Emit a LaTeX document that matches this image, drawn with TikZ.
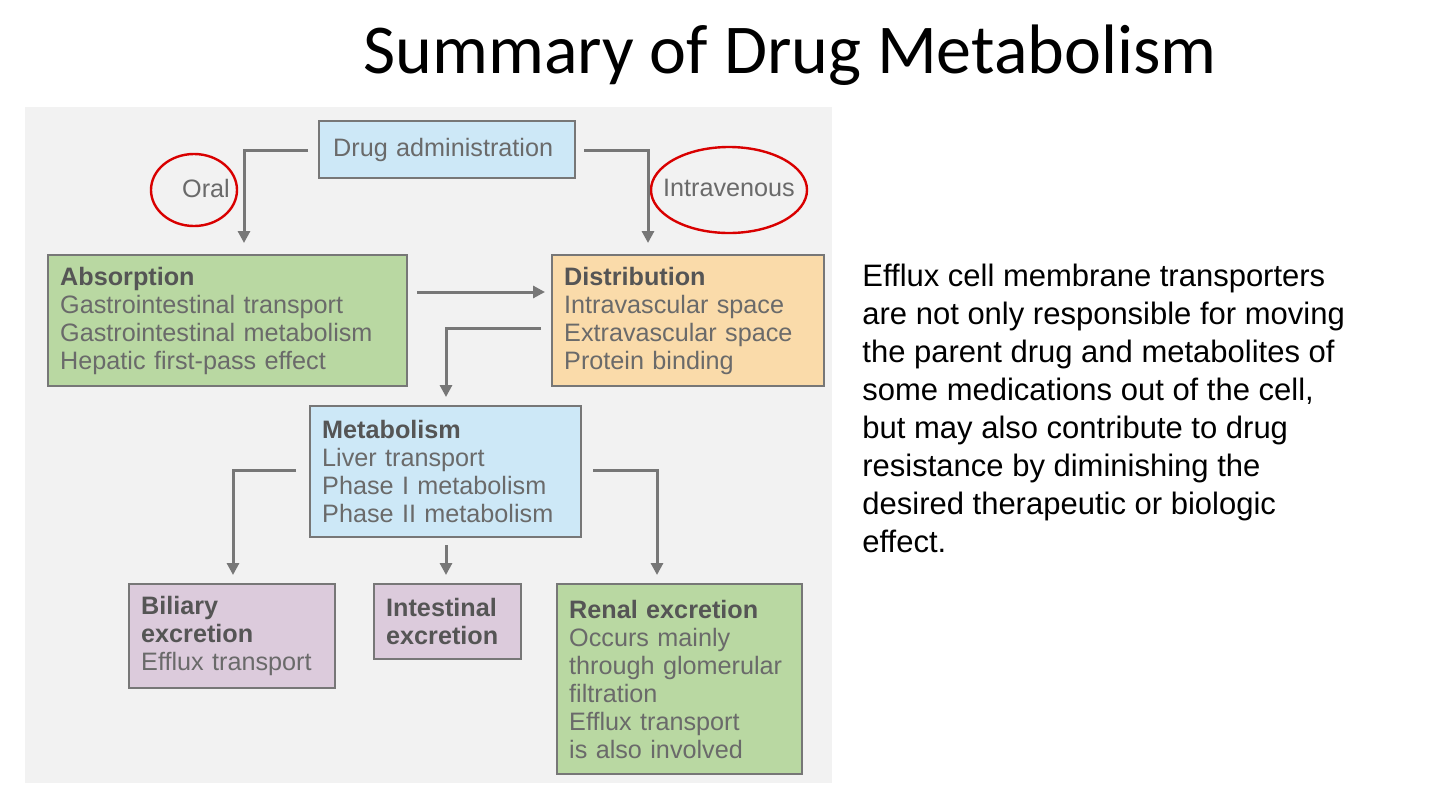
\documentclass[tikz,border=0pt]{standalone}
\usepackage{fontspec}
\setmainfont{Liberation Sans}
\newfontfamily\titlefont{Carlito}
\usetikzlibrary{arrows.meta}
\definecolor{bx}{HTML}{777777}
\definecolor{tx}{HTML}{6A6A6A}
\definecolor{hd}{HTML}{555555}
\definecolor{cblue}{HTML}{CDE8F7}
\definecolor{cgreen}{HTML}{B9D8A2}
\definecolor{corange}{HTML}{FADBAA}
\definecolor{cpurple}{HTML}{DCCBDC}
\begin{document}
\begin{tikzpicture}[x=0.5pt,y=-0.5pt,
 box/.style={draw=bx,line width=1.2pt,anchor=north west,align=left,text=tx,
   font=\fontsize{12.6}{14}\selectfont,inner xsep=6pt,inner ysep=0pt},
 arr/.style={draw=bx,line width=1.5pt,-{Triangle[length=6pt,width=6pt]}},
 ring/.style={draw=red!85!black,line width=1.2pt}]
\useasboundingbox (0,0) rectangle (1440,809);
\fill[white] (0,0) rectangle (1440,809);
\node[font=\titlefont\fontsize{35}{38}\selectfont] (title) at (790,55) {Summary of Drug Metabolism};
\fill[black!5] (25,107) rectangle (832,783);
\node[box,fill=cblue,text width=116pt,minimum height=28.5pt,inner xsep=6pt] (adm) at (318,120) {\hspace{1pt}Drug administration};
\node[box,fill=cgreen,text width=167.5pt,minimum height=65.5pt] (abs) at (47,254)
 {\textbf{\color{hd}Absorption}\\Gastrointestinal transport\\Gastrointestinal metabolism\\Hepatic first-pass effect};
\node[box,fill=corange,text width=124pt,minimum height=65.5pt] (dis) at (551,254)
 {\textbf{\color{hd}Distribution}\\Intravascular space\\Extravascular space\\Protein binding};
\node[box,fill=cblue,text width=123.5pt,minimum height=65.5pt] (met) at (309,405)
 {\textbf{\color{hd}Metabolism}\\Liver transport\\Phase I metabolism\\Phase II metabolism};
\node[box,fill=cpurple,text width=91pt,minimum height=52pt] (bil) at (128,583)
 {\textbf{\color{hd}Biliary}\\\textbf{\color{hd}excretion}\\Efflux transport};
\node[box,fill=cpurple,text width=61.5pt,minimum height=37.5pt] (int) at (373,583)
 {\textbf{\color{hd}Intestinal}\\\textbf{\color{hd}excretion}};
\node[box,fill=cgreen,text width=110.5pt,minimum height=95pt] (ren) at (556,583)
 {\textbf{\color{hd}Renal excretion}\\Occurs mainly\\through glomerular\\filtration\\Efflux transport\\is also involved};
\node[text=tx,font=\fontsize{12.6}{14}\selectfont] (oral) at (206,188) {Oral};
\node[text=tx,font=\fontsize{12.6}{14}\selectfont] (iv) at (729,188) {Intravenous};
\draw[ring] (194,190) ellipse [x radius=43,y radius=36];
\draw[ring] (729,190) ellipse [x radius=78,y radius=43];
\coordinate (a1) at (308,150); \coordinate (a2) at (244,150);
\coordinate (b1) at (584,150); \coordinate (b2) at (648,150);
\draw[arr] (a1) -- (a2) -- (244,243);
\draw[arr] (b1) -- (b2) -- (648,243);
\draw[arr] (417,292) -- (545,292);
\draw[arr] (541,328) -- (446,328) -- (446,397);
\draw[arr] (296,470) -- (233,470) -- (233,575);
\draw[arr] (446,545) -- (446,575);
\draw[arr] (593,470) -- (657,470) -- (657,575);
\node[anchor=north west,align=left,font=\fontsize{15.5}{19}\selectfont,inner sep=0pt] (txt) at (862,264)
 {Efflux cell membrane transporters\\are not only responsible for moving\\the parent drug and metabolites of\\some medications out of the cell,\\but may also contribute to drug\\resistance by diminishing the\\desired therapeutic or biologic\\effect.};
\end{tikzpicture}
\end{document}
